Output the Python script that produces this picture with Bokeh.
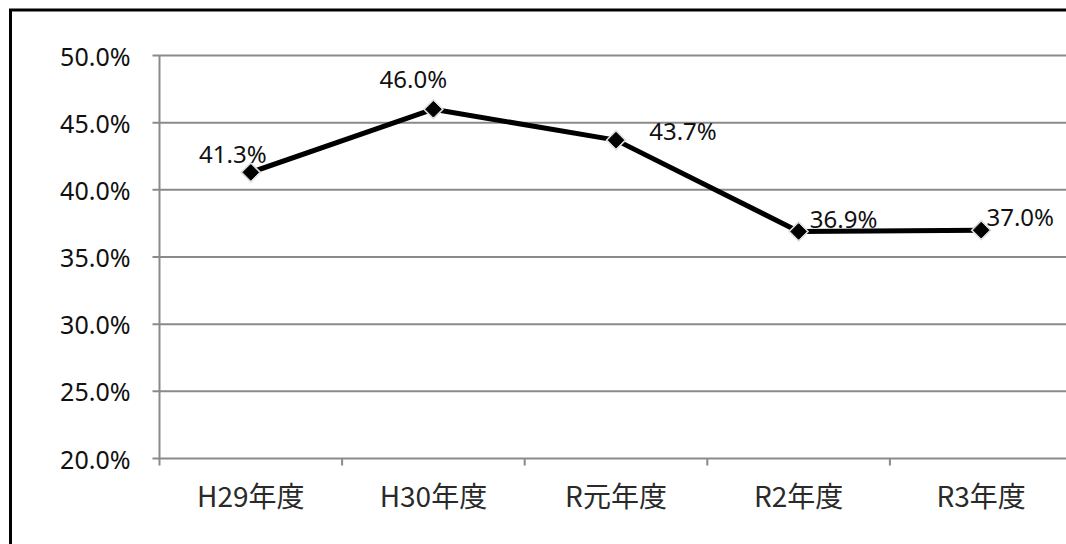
import math
from bokeh.plotting import figure
from bokeh.models import ColumnDataSource, Range1d
from bokeh.core.properties import value
from bokeh.embed import file_html
from bokeh.resources import INLINE

# Fiscal years and their rates (%)
years = ["H29年度", "H30年度", "R元年度", "R2年度", "R3年度"]
rates = [41.3, 46.0, 43.7, 36.9, 37.0]
y_ticks = [20, 25, 30, 35, 40, 45, 50]

# label placement around each point (screen px, y grows downward)
label_dx = [-18, -20, 67, 45, 39]
label_dy = [-19, -31, -10, -13, -14]

GRID = "#8a8a8a"
TEXT = "#111111"
NUM_FONT = "Noto Sans"
CJK_FONT = "Noto Sans CJK JP"

# page layout (px): plot area left/bottom edges, px per category, px per %
W, H = 1066, 544
PLOT_L, PLOT_B = 159, 458
CAT_W = 182.6
PCT_H = 403 / 30
TICK = 7


def px2x(px):
    return (px - PLOT_L) / CAT_W


def py2y(py):
    return y_ticks[0] + (PLOT_B - py) / PCT_H


n = len(years)
xs = [i + 0.5 for i in range(n)]
src = ColumnDataSource(dict(
    x=xs, y=rates,
    label=[f"{v:.1f}%" for v in rates],
    dx=label_dx, dy=label_dy,
))

# the data frame fills the whole canvas; axes are drawn as plain marks
p = figure(width=W, height=H, output_backend="svg", toolbar_location=None,
           x_range=Range1d(px2x(0), px2x(W)), y_range=Range1d(py2y(H), py2y(0)),
           x_axis_location=None, y_axis_location=None,
           min_border=0, min_border_left=0, min_border_right=0,
           min_border_top=0, min_border_bottom=0,
           outline_line_color=None,
           background_fill_color="white", border_fill_color="white")
p.grid.visible = False

x_left = px2x(PLOT_L - TICK)
x_right = px2x(W)

# horizontal gridlines (the lowest doubles as the category axis line)
p.segment(x0=[x_left] * len(y_ticks), y0=y_ticks,
          x1=[x_right] * len(y_ticks), y1=y_ticks,
          line_color=GRID, line_width=2)
# value axis line
p.segment(x0=[0], y0=[y_ticks[0]], x1=[0], y1=[y_ticks[-1]],
          line_color=GRID, line_width=2)
# category boundary ticks
bounds = list(range(n + 1))
p.segment(x0=bounds, y0=[y_ticks[0]] * len(bounds),
          x1=bounds, y1=[py2y(PLOT_B + TICK)] * len(bounds),
          line_color=GRID, line_width=2)

# value axis labels
p.text(x=[0] * len(y_ticks), y=y_ticks, text=[f"{t:.1f}%" for t in y_ticks],
       x_offset=-29, text_align="right", text_baseline="middle",
       text_font=value(NUM_FONT), text_font_size="25px", text_color=TEXT)

# category labels
p.text(x=xs, y=[y_ticks[0]] * n, text=years, y_offset=36,
       text_align="center", text_baseline="middle",
       text_font=value(CJK_FONT), text_font_size="28px", text_color="#2a2a2a")

# series line and diamond markers with a soft halo
p.line("x", "y", source=src, line_color="black", line_width=5)
p.scatter("x", "y", source=src, marker="square", angle=math.pi / 4, size=15,
          fill_color="#dcdcdc", line_color=None)
p.scatter("x", "y", source=src, marker="square", angle=math.pi / 4, size=11,
          fill_color="black", line_color="black", line_width=1)

# value labels
p.text("x", "y", text="label", source=src, x_offset="dx", y_offset="dy",
       text_font=value(NUM_FONT), text_font_size="24px", text_color=TEXT,
       text_align="center", text_baseline="alphabetic")

# outer chart border (left and top edges fall inside the page)
p.line(x=[px2x(10), px2x(10), px2x(W + 5)],
       y=[py2y(H + 5), py2y(9.5), py2y(9.5)],
       line_color="black", line_width=3, line_join="miter")

open("out.html", "w").write(file_html(p, INLINE))
